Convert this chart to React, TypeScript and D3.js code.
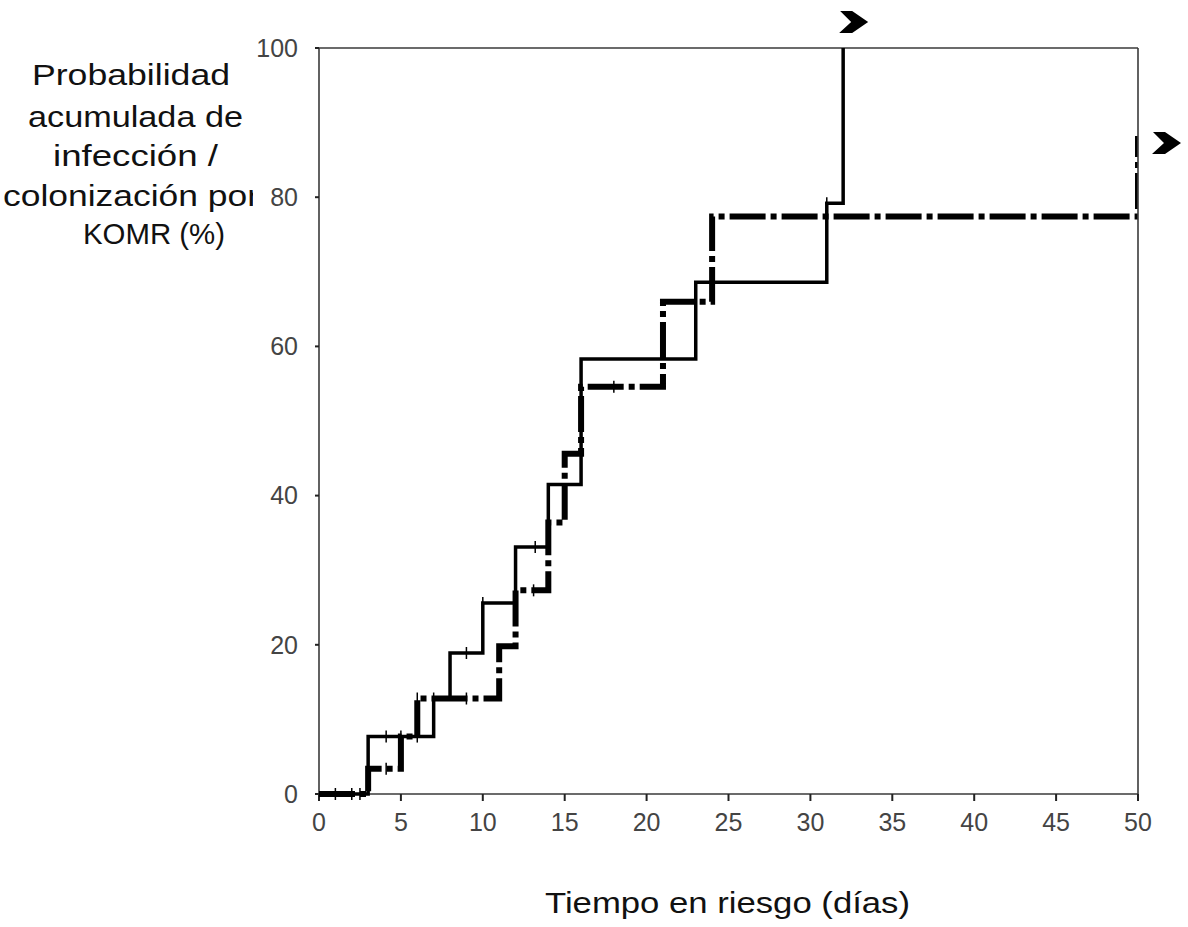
import React from "react";
import * as d3 from "d3";

// ---- data ----
const xTicks = [0, 5, 10, 15, 20, 25, 30, 35, 40, 45, 50];
const yTicks = [0, 20, 40, 60, 80, 100];

// solid curve (step function): event times and cumulative probability (%)
const solidTimes = [0, 3, 7, 8, 10, 12, 14, 16, 23, 31, 32];
const solidValues = [0, 7.7, 12.8, 18.9, 25.6, 33.1, 41.5, 58.3, 68.6, 79.2, 100];
// dash-dot curve
const dashTimes = [0, 3, 5, 6, 11, 12, 14, 15, 16, 21, 24, 50];
const dashValues = [0, 3.4, 7.7, 12.8, 19.8, 27.3, 36.4, 45.6, 54.6, 66.0, 77.4, 88.2];
// censoring marks (times)
const solidCensored = [1, 2, 2.5, 4.1, 5, 6, 7, 9, 10, 13.2, 24, 31];
const dashCensored = [3, 4.1, 6, 9, 12, 13.1, 18];

const yLabelLines = ["Probabilidad", "acumulada de", "infección /", "colonización por", "KOMR (%)"];
const xLabel = "Tiempo en riesgo (días)";

const FONT = "'Liberation Sans', Arial, Helvetica, sans-serif";

function stepValue(times: number[], values: number[], t: number) {
  const i = d3.bisectRight(times, t) - 1;
  return values[Math.max(0, i)];
}

export default function App() {
  const W = 1188;
  const H = 927;
  const x = d3.scaleLinear().domain([0, 50]).range([319, 1138]);
  const y = d3.scaleLinear().domain([0, 100]).range([794, 48]);

  const line = d3
    .line<[number, number]>()
    .x((d) => x(d[0]))
    .y((d) => y(d[1]))
    .curve(d3.curveStepAfter);

  const solidPts = solidTimes.map((t, i) => [t, solidValues[i]] as [number, number]);
  const dashPts = dashTimes.map((t, i) => [t, dashValues[i]] as [number, number]);

  // y-label layout: [x start, baseline, text length]
  const yLabelLayout: [number, number, number][] = [
    [32, 85, 198],
    [28, 127, 215],
    [53, 166, 165],
    [3, 206, 256],
    [83, 244, 142],
  ];

  const chevron = "M-14,-11 L-2,-11 L14,0 L-2,11 L-15,11 L-3,0 Z";

  return (
    <svg
      width={W}
      height={H}
      style={{ position: "absolute", left: 0, top: 0, background: "#fff" }}
      fontFamily={FONT}
    >
      <defs>
        <clipPath id="plotclip">
          <rect x={0} y={0} width={x(50) - 0.5} height={H} />
        </clipPath>
        <clipPath id="ylabclip">
          <rect x={0} y={0} width={253} height={H} />
        </clipPath>
      </defs>
      <rect x={0} y={0} width={W} height={H} fill="#fff" />

      {/* y label */}
      <g clipPath="url(#ylabclip)" fontSize={30} fill="#111">
        {yLabelLines.map((s, i) => (
          <text
            key={s}
            x={yLabelLayout[i][0]}
            y={yLabelLayout[i][1]}
            textLength={yLabelLayout[i][2]}
            lengthAdjust="spacingAndGlyphs"
          >
            {s}
          </text>
        ))}
      </g>

      {/* x label */}
      <text x={545} y={913} fontSize={29} fill="#111" textLength={365} lengthAdjust="spacingAndGlyphs">
        {xLabel}
      </text>

      {/* frame / axes */}
      <g stroke="#3a3a3a" strokeWidth={1.6} fill="none">
        <line x1={x(0)} x2={x(50)} y1={y(0)} y2={y(0)} />
        <line x1={x(0)} x2={x(0)} y1={y(0)} y2={y(100)} />
        <line x1={x(0)} x2={x(50)} y1={y(100)} y2={y(100)} />
        <line x1={x(50)} x2={x(50)} y1={y(0)} y2={y(100)} />
      </g>
      {xTicks.map((t) => (
        <g key={"xt" + t}>
          <line x1={x(t)} x2={x(t)} y1={y(0)} y2={y(0) + 7} stroke="#222" strokeWidth={2} />
          <text x={x(t)} y={831} textAnchor="middle" fontSize={25} fill="#444">
            {t}
          </text>
        </g>
      ))}
      {yTicks.map((t) => (
        <g key={"yt" + t}>
          <line x1={x(0) - 4} x2={x(0)} y1={y(t)} y2={y(t)} stroke="#222" strokeWidth={2} />
          <text x={298} y={y(t)} dy="0.35em" textAnchor="end" fontSize={25} fill="#444">
            {t}
          </text>
        </g>
      ))}

      {/* curves */}
      <path
        d={line(dashPts) || ""}
        fill="none"
        stroke="#000"
        strokeWidth={6}
        strokeDasharray="36 5 6 5"
        strokeLinejoin="miter"
        clipPath="url(#plotclip)"
      />
      <path d={line(solidPts) || ""} fill="none" stroke="#000" strokeWidth={3.5} strokeLinejoin="miter" />

      {/* censor marks */}
      <g stroke="#000" strokeWidth={1.5}>
        {solidCensored.map((t, i) => {
          const v = stepValue(solidTimes, solidValues, t);
          return <line key={"sc" + i} x1={x(t)} x2={x(t)} y1={y(v) - 6} y2={y(v) + 6} />;
        })}
        {dashCensored.map((t, i) => {
          const v = stepValue(dashTimes, dashValues, t);
          return <line key={"dc" + i} x1={x(t)} x2={x(t)} y1={y(v) - 6} y2={y(v) + 6} />;
        })}
      </g>

      {/* end-of-curve arrows */}
      <path d={chevron} transform={`translate(${x(32) + 11},${y(100) - 26})`} fill="#000" />
      <path d={chevron} transform={`translate(${x(50) + 29},${y(88.2) + 7})`} fill="#000" />
    </svg>
  );
}
